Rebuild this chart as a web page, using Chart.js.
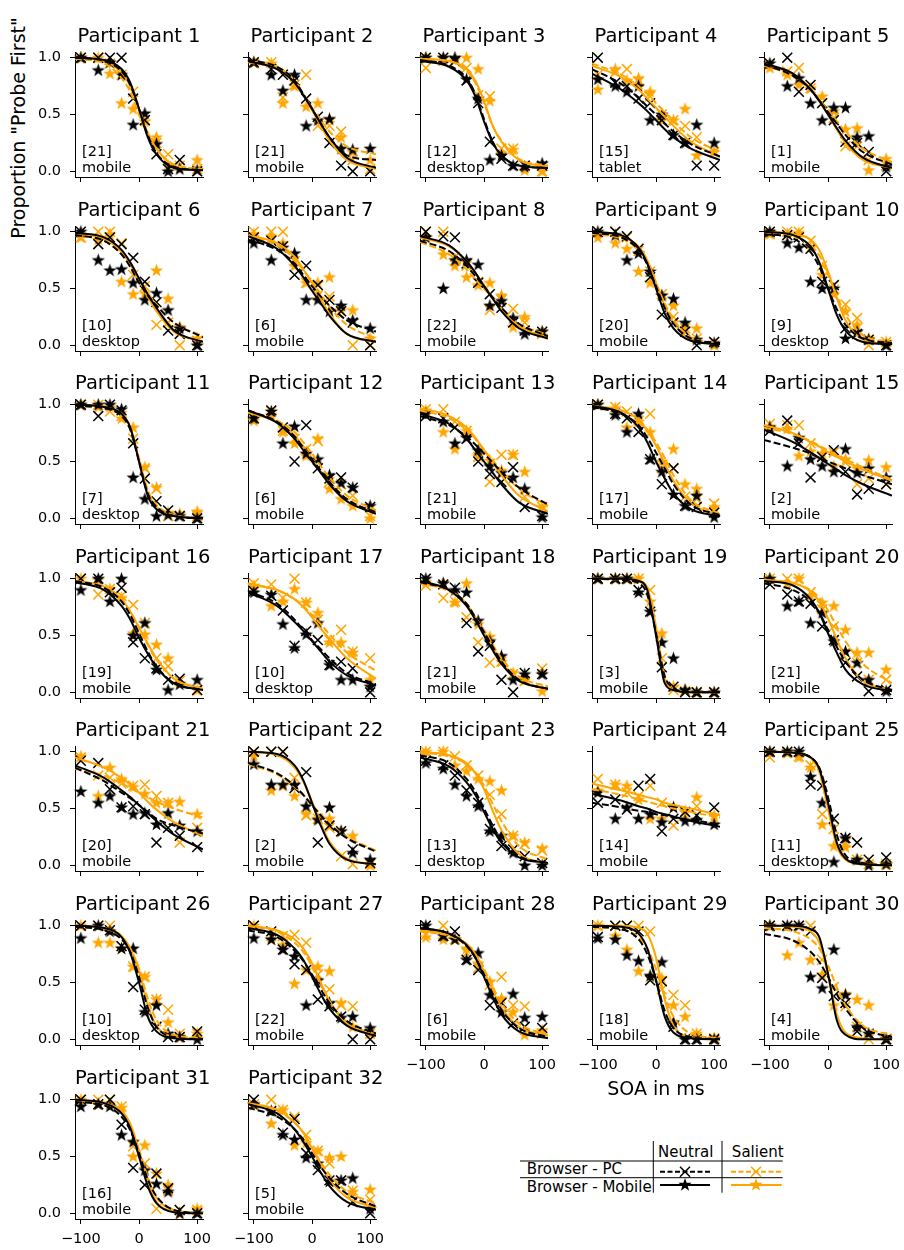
<!DOCTYPE html>
<html>
<head>
<meta charset="utf-8">
<script src="https://cdn.jsdelivr.net/npm/chart.js@4.4.0/dist/chart.umd.min.js"></script>
<style>
  html, body { margin: 0; padding: 0; background: #fff; }
  #fig { position: relative; width: 904px; height: 1250px; overflow: hidden;
         font-family: "DejaVu Sans", sans-serif; color: #000; }
  #fig canvas { position: absolute; }
  .ptitle { position: absolute; width: 128px; text-align: center; font-size: 19.5px;
            line-height: 24px; white-space: nowrap; }
  .pnote { position: absolute; font-size: 14.5px; line-height: 16px; white-space: nowrap; }
  .axlabel { position: absolute; font-size: 19px; line-height: 22px; white-space: nowrap; }
</style>
</head>
<body>
<div id="fig"></div>
<script>
// SOA values (ms) of the measured points, and x positions where fitted curves are read
const soa = [-100, -70, -50, -30, -10, 10, 30, 50, 70, 100];
const fitSoa = [-110, -60, -30, -15, 0, 15, 30, 60, 110];
const xTicks = [-100, 0, 100];
const yTicks = [0, 0.5, 1];

const trials = [21, 21, 12, 15, 1, 10, 6, 22, 20, 9, 7, 6, 21, 17, 2, 19,
                10, 21, 3, 21, 20, 2, 13, 14, 11, 10, 22, 6, 18, 4, 16, 5];
const devices = ['mobile', 'mobile', 'desktop', 'tablet', 'mobile', 'desktop', 'mobile', 'mobile',
                 'mobile', 'desktop', 'desktop', 'mobile', 'mobile', 'mobile', 'mobile', 'mobile',
                 'desktop', 'mobile', 'mobile', 'mobile', 'mobile', 'mobile', 'desktop', 'mobile',
                 'desktop', 'desktop', 'mobile', 'mobile', 'mobile', 'mobile', 'mobile', 'mobile'];

// proportion "probe first" per participant, one row per participant, one value per SOA
const neutralPC = [
  [1.0, 1.0, 1.0, 1.0, 0.64, 0.45, 0.15, 0.02, 0.1, 0.0],
  [0.96, 0.9, 0.85, 0.8, 0.64, 0.48, 0.25, 0.05, 0.0, 0.0],
  [1.0, 1.0, 0.97, 0.8, 0.6, 0.26, 0.11, 0.05, 0.05, 0.05],
  [1.0, 0.78, 0.75, 0.64, 0.6, 0.45, 0.32, 0.25, 0.05, 0.05],
  [0.95, 1.0, 0.7, 0.76, 0.6, 0.45, 0.26, 0.25, 0.17, 0.0],
  [1.0, 0.89, 0.95, 0.89, 0.77, 0.56, 0.38, 0.13, 0.1, 0.0],
  [0.95, 0.92, 0.87, 0.62, 0.7, 0.53, 0.4, 0.3, 0.2, 0.0],
  [1.0, 0.96, 0.95, 0.72, 0.55, 0.45, 0.33, 0.2, 0.13, 0.12],
  [1.0, 1.0, 0.96, 0.85, 0.6, 0.27, 0.2, 0.12, 0.0, 0.03],
  [1.0, 0.97, 0.95, 0.85, 0.56, 0.53, 0.15, 0.1, 0.05, 0.0],
  [1.0, 0.9, 1.0, 0.95, 0.66, 0.35, 0.15, 0.07, 0.02, 0.0],
  [0.88, 0.95, 0.8, 0.5, 0.82, 0.44, 0.35, 0.36, 0.27, 0.1],
  [0.9, 0.88, 0.8, 0.7, 0.5, 0.39, 0.32, 0.45, 0.1, 0.02],
  [1.0, 0.92, 0.88, 0.76, 0.52, 0.3, 0.44, 0.11, 0.1, 0.05],
  [0.77, 0.86, 0.66, 0.36, 0.54, 0.6, 0.41, 0.21, 0.26, 0.3],
  [1.0, 1.0, 0.88, 0.92, 0.44, 0.3, 0.21, 0.11, 0.12, 0.02],
  [0.89, 0.85, 0.72, 0.41, 0.54, 0.46, 0.24, 0.27, 0.21, 0.0],
  [1.0, 0.95, 0.92, 0.61, 0.36, 0.41, 0.11, 0.0, 0.17, 0.16],
  [1.0, 1.0, 1.0, 0.9, 0.71, 0.22, 0.05, 0.0, 0.0, 0.0],
  [0.95, 0.86, 0.8, 0.78, 0.58, 0.46, 0.26, 0.14, 0.01, 0.02],
  [0.92, 0.9, 0.67, 0.51, 0.52, 0.45, 0.2, 0.33, 0.26, 0.16],
  [1.0, 1.0, 1.0, 0.68, 0.82, 0.2, 0.35, 0.3, 0.14, 0.02],
  [0.92, 0.88, 0.79, 0.66, 0.55, 0.32, 0.17, 0.14, 0.08, 0.02],
  [0.55, 0.58, 0.49, 0.7, 0.76, 0.3, 0.41, 0.47, 0.44, 0.51],
  [1.0, 1.0, 1.0, 0.71, 0.7, 0.41, 0.24, 0.2, 0.05, 0.07],
  [1.0, 1.0, 0.96, 0.82, 0.46, 0.26, 0.11, 0.02, 0.02, 0.07],
  [1.0, 0.95, 0.79, 0.66, 0.61, 0.35, 0.29, 0.2, 0.0, 0.0],
  [1.0, 0.91, 0.95, 0.7, 0.61, 0.3, 0.32, 0.14, 0.11, 0.1],
  [0.9, 1.0, 1.0, 0.95, 0.52, 0.51, 0.11, 0.0, 0.0, 0.0],
  [1.0, 1.0, 1.0, 0.95, 0.54, 0.38, 0.32, 0.07, 0.05, 0.0],
  [1.0, 0.96, 1.0, 0.78, 0.4, 0.25, 0.35, 0.22, 0.03, 0.0],
  [1.0, 0.9, 0.71, 0.83, 0.53, 0.38, 0.29, 0.29, 0.1, 0.0]
];
const neutralMobile = [
  [1.0, 0.89, 0.96, 0.85, 0.41, 0.51, 0.24, 0.0, 0.02, 0.01],
  [0.96, 0.85, 0.71, 0.85, 0.4, 0.45, 0.46, 0.2, 0.19, 0.2],
  [1.0, 1.0, 1.0, 0.81, 0.64, 0.1, 0.14, 0.05, 0.04, 0.07],
  [0.81, 0.75, 0.7, 0.75, 0.45, 0.5, 0.32, 0.25, 0.41, 0.25],
  [0.95, 0.75, 0.82, 0.6, 0.45, 0.56, 0.56, 0.3, 0.31, 0.04],
  [1.0, 0.75, 0.66, 0.67, 0.55, 0.4, 0.46, 0.31, 0.15, 0.0],
  [0.9, 0.75, 0.86, 0.81, 0.4, 0.4, 0.3, 0.35, 0.22, 0.15],
  [0.95, 0.5, 0.75, 0.75, 0.71, 0.35, 0.39, 0.24, 0.1, 0.12],
  [1.0, 0.97, 0.75, 0.81, 0.65, 0.44, 0.41, 0.2, 0.05, 0.02],
  [1.0, 0.9, 0.86, 0.56, 0.5, 0.5, 0.06, 0.12, 0.05, 0.0],
  [1.0, 1.0, 1.0, 0.96, 0.36, 0.17, 0.02, 0.03, 0.02, 0.0],
  [0.88, 0.94, 0.66, 0.81, 0.57, 0.52, 0.38, 0.31, 0.27, 0.11],
  [0.92, 0.85, 0.66, 0.71, 0.6, 0.46, 0.4, 0.36, 0.26, 0.01],
  [1.0, 0.91, 0.76, 0.92, 0.52, 0.41, 0.21, 0.11, 0.2, 0.01],
  [0.8, 0.46, 0.71, 0.52, 0.46, 0.41, 0.61, 0.4, 0.44, 0.36],
  [0.9, 1.0, 0.8, 1.0, 0.5, 0.61, 0.2, 0.02, 0.07, 0.11],
  [0.88, 0.86, 0.6, 0.39, 0.51, 0.61, 0.24, 0.11, 0.11, 0.05],
  [1.0, 0.96, 0.9, 0.88, 0.63, 0.45, 0.32, 0.11, 0.16, 0.16],
  [1.0, 1.0, 1.0, 0.88, 0.71, 0.44, 0.3, 0.02, 0.0, 0.0],
  [1.0, 0.76, 0.8, 0.61, 0.7, 0.45, 0.36, 0.26, 0.11, 0.01],
  [0.65, 0.55, 0.61, 0.51, 0.45, 0.46, 0.36, 0.46, 0.35, 0.3],
  [0.89, 0.71, 0.71, 0.71, 0.52, 0.4, 0.51, 0.3, 0.11, 0.05],
  [0.9, 0.85, 0.71, 0.61, 0.52, 0.3, 0.26, 0.11, 0.0, 0.0],
  [0.64, 0.41, 0.51, 0.41, 0.45, 0.38, 0.51, 0.39, 0.4, 0.36],
  [1.0, 1.0, 1.0, 0.78, 0.55, 0.03, 0.24, 0.05, 0.0, 0.01],
  [0.89, 1.0, 0.95, 0.8, 0.8, 0.24, 0.3, 0.05, 0.02, 0.0],
  [0.89, 0.88, 0.79, 0.73, 0.3, 0.52, 0.32, 0.19, 0.2, 0.1],
  [1.0, 0.91, 0.88, 0.7, 0.76, 0.39, 0.24, 0.4, 0.19, 0.2],
  [0.89, 0.88, 0.74, 0.69, 0.56, 0.68, 0.15, 0.0, 0.0, 0.0],
  [1.0, 1.0, 1.0, 0.55, 0.45, 0.79, 0.39, 0.11, 0.05, 0.0],
  [0.94, 0.96, 0.94, 0.69, 0.63, 0.38, 0.26, 0.19, 0.0, 0.0],
  [0.96, 0.9, 0.69, 0.65, 0.49, 0.44, 0.28, 0.29, 0.31, 0.04]
];
const salientPC = [
  [1.0, 1.0, 0.95, 0.85, 0.7, 0.45, 0.25, 0.15, 0.05, 0.02],
  [0.95, 0.96, 0.65, 0.76, 0.85, 0.4, 0.4, 0.35, 0.1, 0.02],
  [0.91, 0.97, 0.97, 0.91, 0.67, 0.66, 0.2, 0.2, 0.05, 0.0],
  [0.85, 0.87, 0.9, 0.79, 0.66, 0.5, 0.45, 0.4, 0.3, 0.17],
  [0.94, 0.88, 0.91, 0.73, 0.6, 0.47, 0.22, 0.22, 0.1, 0.05],
  [0.95, 1.0, 1.0, 0.9, 0.62, 0.52, 0.18, 0.2, 0.0, 0.04],
  [1.0, 1.0, 1.0, 0.74, 0.55, 0.44, 0.43, 0.3, 0.0, 0.0],
  [1.0, 1.0, 0.78, 0.7, 0.56, 0.31, 0.4, 0.32, 0.2, 0.1],
  [1.0, 1.0, 0.95, 0.83, 0.65, 0.45, 0.25, 0.15, 0.06, 0.03],
  [0.98, 1.0, 1.0, 0.92, 0.7, 0.49, 0.36, 0.24, 0.0, 0.03],
  [1.0, 1.0, 0.94, 0.9, 0.7, 0.44, 0.26, 0.02, 0.02, 0.02],
  [0.88, 0.94, 0.77, 0.7, 0.61, 0.68, 0.32, 0.3, 0.2, 0.02],
  [0.96, 0.96, 0.85, 0.77, 0.54, 0.32, 0.56, 0.56, 0.19, 0.1],
  [1.0, 0.98, 0.94, 0.86, 0.92, 0.44, 0.44, 0.19, 0.17, 0.13],
  [0.83, 0.82, 0.82, 0.66, 0.55, 0.58, 0.49, 0.3, 0.35, 0.3],
  [1.0, 0.86, 0.91, 0.85, 0.77, 0.61, 0.3, 0.23, 0.1, 0.02],
  [0.96, 0.95, 0.83, 1.0, 0.79, 0.64, 0.46, 0.55, 0.36, 0.3],
  [0.94, 0.83, 0.8, 0.66, 0.44, 0.26, 0.27, 0.16, 0.1, 0.21],
  [1.0, 1.0, 1.0, 1.0, 0.9, 0.3, 0.02, 0.01, 0.0, 0.0],
  [1.0, 1.0, 1.0, 0.88, 0.73, 0.58, 0.35, 0.26, 0.11, 0.11],
  [0.95, 0.79, 0.77, 0.72, 0.7, 0.71, 0.61, 0.55, 0.2, 0.33],
  [1.0, 1.0, 1.0, 0.77, 0.44, 0.41, 0.33, 0.08, 0.01, 0.01],
  [1.0, 1.0, 0.96, 0.88, 0.79, 0.62, 0.45, 0.26, 0.19, 0.13],
  [0.76, 0.71, 0.64, 0.61, 0.7, 0.55, 0.35, 0.44, 0.52, 0.41],
  [0.95, 0.99, 0.96, 0.88, 0.45, 0.32, 0.2, 0.05, 0.01, 0.01],
  [1.0, 1.0, 1.0, 0.82, 0.64, 0.55, 0.35, 0.26, 0.05, 0.05],
  [1.0, 0.91, 0.91, 0.92, 0.85, 0.57, 0.44, 0.3, 0.29, 0.05],
  [0.92, 1.0, 0.88, 0.76, 0.63, 0.48, 0.55, 0.3, 0.29, 0.05],
  [1.0, 1.0, 1.0, 1.0, 0.95, 0.44, 0.39, 0.3, 0.05, 0.01],
  [1.0, 1.0, 1.0, 1.0, 0.7, 0.46, 0.29, 0.11, 0.0, 0.0],
  [1.0, 1.0, 1.0, 0.94, 0.59, 0.44, 0.04, 0.2, 0.03, 0.03],
  [0.96, 1.0, 0.91, 0.85, 0.69, 0.55, 0.44, 0.29, 0.2, 0.12]
];
const salientMobile = [
  [1.0, 1.0, 0.86, 0.6, 0.55, 0.44, 0.3, 0.05, 0.03, 0.1],
  [0.96, 0.95, 0.6, 0.75, 0.57, 0.6, 0.46, 0.3, 0.17, 0.1],
  [1.0, 1.0, 0.98, 1.0, 0.9, 0.62, 0.16, 0.19, 0.01, 0.0],
  [0.72, 0.9, 0.8, 0.82, 0.7, 0.45, 0.45, 0.55, 0.14, 0.17],
  [0.91, 0.85, 0.76, 0.73, 0.66, 0.53, 0.37, 0.38, 0.01, 0.11],
  [0.95, 0.93, 0.98, 0.56, 0.45, 0.46, 0.66, 0.41, 0.16, 0.06],
  [0.98, 0.96, 0.9, 0.7, 0.55, 0.55, 0.6, 0.31, 0.31, 0.06],
  [0.95, 0.8, 0.7, 0.6, 0.53, 0.55, 0.44, 0.16, 0.25, 0.12],
  [0.95, 0.9, 0.85, 0.65, 0.55, 0.44, 0.35, 0.15, 0.15, 0.0],
  [0.98, 0.98, 0.99, 0.86, 0.62, 0.45, 0.3, 0.18, 0.06, 0.03],
  [1.0, 0.98, 0.98, 0.88, 0.8, 0.45, 0.27, 0.05, 0.04, 0.06],
  [0.86, 0.91, 0.76, 0.66, 0.55, 0.7, 0.26, 0.17, 0.11, 0.0],
  [0.95, 0.76, 0.61, 0.77, 0.55, 0.51, 0.42, 0.56, 0.41, 0.1],
  [1.0, 0.97, 0.8, 0.85, 0.76, 0.5, 0.61, 0.3, 0.26, 0.1],
  [0.81, 0.79, 0.55, 0.59, 0.57, 0.46, 0.52, 0.44, 0.51, 0.45],
  [1.0, 0.99, 0.91, 0.83, 0.52, 0.51, 0.42, 0.3, 0.08, 0.02],
  [0.94, 0.76, 0.8, 0.91, 0.79, 0.7, 0.44, 0.44, 0.35, 0.11],
  [0.97, 0.96, 0.79, 0.96, 0.6, 0.49, 0.27, 0.17, 0.11, 0.01],
  [1.0, 1.0, 1.0, 1.0, 0.8, 0.52, 0.05, 0.02, 0.0, 0.0],
  [1.0, 0.96, 1.0, 0.85, 0.79, 0.76, 0.55, 0.35, 0.35, 0.2],
  [0.96, 0.61, 0.86, 0.76, 0.69, 0.63, 0.55, 0.55, 0.56, 0.45],
  [0.96, 0.66, 0.7, 0.61, 0.45, 0.41, 0.41, 0.3, 0.26, 0.0],
  [1.0, 1.0, 0.88, 0.83, 0.76, 0.74, 0.66, 0.26, 0.2, 0.15],
  [0.66, 0.71, 0.7, 0.58, 0.41, 0.41, 0.51, 0.48, 0.6, 0.44],
  [1.0, 0.99, 0.95, 0.86, 0.36, 0.17, 0.16, 0.05, 0.02, 0.01],
  [1.0, 0.85, 0.85, 0.8, 0.64, 0.55, 0.35, 0.15, 0.02, 0.05],
  [1.0, 0.88, 0.83, 0.49, 0.61, 0.64, 0.6, 0.32, 0.11, 0.05],
  [0.9, 0.88, 0.88, 0.8, 0.67, 0.51, 0.36, 0.24, 0.04, 0.08],
  [1.0, 0.91, 0.79, 0.6, 0.55, 0.54, 0.3, 0.2, 0.05, 0.01],
  [1.0, 0.74, 0.85, 0.7, 0.57, 0.3, 0.4, 0.35, 0.3, 0.01],
  [1.0, 0.96, 0.97, 0.93, 0.5, 0.6, 0.35, 0.25, 0.0, 0.04],
  [0.96, 0.79, 0.91, 0.6, 0.62, 0.55, 0.49, 0.5, 0.19, 0.21]
];

// fitted psychometric curves at fitSoa
const fitNeutralPC = [
  [1.0, 0.97, 0.88, 0.76, 0.55, 0.32, 0.16, 0.04, 0.01],
  [0.98, 0.92, 0.8, 0.68, 0.55, 0.42, 0.3, 0.14, 0.1],
  [0.98, 0.93, 0.82, 0.68, 0.46, 0.26, 0.14, 0.05, 0.03],
  [0.9, 0.77, 0.65, 0.57, 0.5, 0.42, 0.35, 0.24, 0.13],
  [0.94, 0.84, 0.72, 0.62, 0.52, 0.42, 0.32, 0.17, 0.06],
  [0.97, 0.92, 0.8, 0.69, 0.55, 0.44, 0.35, 0.2, 0.07],
  [0.93, 0.84, 0.72, 0.62, 0.52, 0.43, 0.35, 0.22, 0.12],
  [0.92, 0.83, 0.7, 0.61, 0.52, 0.42, 0.33, 0.19, 0.08],
  [0.99, 0.95, 0.84, 0.71, 0.52, 0.33, 0.19, 0.06, 0.02],
  [0.98, 0.94, 0.82, 0.69, 0.5, 0.32, 0.18, 0.06, 0.02],
  [0.99, 0.97, 0.9, 0.78, 0.5, 0.22, 0.1, 0.02, 0.0],
  [0.95, 0.85, 0.72, 0.62, 0.52, 0.42, 0.32, 0.17, 0.05],
  [0.9, 0.82, 0.72, 0.65, 0.57, 0.49, 0.41, 0.27, 0.12],
  [0.98, 0.92, 0.82, 0.71, 0.58, 0.44, 0.3, 0.12, 0.03],
  [0.69, 0.62, 0.57, 0.53, 0.5, 0.47, 0.44, 0.38, 0.3],
  [0.98, 0.92, 0.8, 0.68, 0.52, 0.36, 0.23, 0.08, 0.02],
  [0.89, 0.78, 0.64, 0.55, 0.46, 0.38, 0.3, 0.17, 0.07],
  [0.97, 0.9, 0.78, 0.66, 0.53, 0.4, 0.27, 0.11, 0.03],
  [1.0, 0.99, 0.96, 0.86, 0.52, 0.14, 0.04, 0.0, 0.0],
  [0.96, 0.9, 0.8, 0.7, 0.55, 0.4, 0.27, 0.11, 0.02],
  [0.86, 0.74, 0.64, 0.59, 0.53, 0.47, 0.41, 0.35, 0.28],
  [0.9, 0.81, 0.7, 0.62, 0.53, 0.44, 0.36, 0.24, 0.12],
  [0.97, 0.9, 0.76, 0.65, 0.5, 0.35, 0.22, 0.08, 0.02],
  [0.55, 0.51, 0.48, 0.47, 0.45, 0.44, 0.42, 0.4, 0.36],
  [1.0, 0.99, 0.95, 0.86, 0.6, 0.27, 0.09, 0.02, 0.0],
  [0.99, 0.96, 0.88, 0.77, 0.55, 0.28, 0.11, 0.02, 0.0],
  [0.96, 0.9, 0.78, 0.69, 0.57, 0.44, 0.32, 0.16, 0.05],
  [0.98, 0.93, 0.82, 0.72, 0.57, 0.4, 0.26, 0.1, 0.02],
  [0.99, 0.97, 0.88, 0.75, 0.52, 0.25, 0.1, 0.02, 0.0],
  [0.93, 0.87, 0.77, 0.68, 0.55, 0.4, 0.27, 0.1, 0.02],
  [0.98, 0.95, 0.85, 0.73, 0.53, 0.3, 0.15, 0.03, 0.0],
  [0.93, 0.85, 0.74, 0.65, 0.53, 0.41, 0.31, 0.17, 0.06]
];
const fitNeutralMobile = [
  [1.0, 0.98, 0.9, 0.78, 0.55, 0.3, 0.15, 0.03, 0.01],
  [0.97, 0.9, 0.78, 0.67, 0.55, 0.42, 0.3, 0.12, 0.03],
  [0.97, 0.92, 0.8, 0.66, 0.44, 0.25, 0.14, 0.05, 0.03],
  [0.86, 0.72, 0.6, 0.53, 0.45, 0.37, 0.3, 0.2, 0.1],
  [0.95, 0.86, 0.72, 0.62, 0.5, 0.38, 0.27, 0.12, 0.03],
  [0.99, 0.95, 0.84, 0.73, 0.59, 0.45, 0.33, 0.13, 0.03],
  [0.96, 0.85, 0.7, 0.6, 0.48, 0.37, 0.26, 0.1, 0.03],
  [0.96, 0.88, 0.74, 0.64, 0.52, 0.41, 0.3, 0.15, 0.06],
  [1.0, 0.97, 0.86, 0.72, 0.5, 0.28, 0.15, 0.04, 0.01],
  [1.0, 0.97, 0.87, 0.73, 0.5, 0.27, 0.13, 0.03, 0.01],
  [1.0, 0.98, 0.92, 0.8, 0.5, 0.2, 0.08, 0.02, 0.0],
  [0.95, 0.84, 0.7, 0.6, 0.5, 0.4, 0.3, 0.15, 0.04],
  [0.92, 0.83, 0.7, 0.6, 0.5, 0.4, 0.3, 0.14, 0.04],
  [0.99, 0.93, 0.8, 0.67, 0.5, 0.35, 0.22, 0.08, 0.02],
  [0.78, 0.67, 0.58, 0.53, 0.48, 0.43, 0.38, 0.3, 0.2],
  [0.97, 0.9, 0.76, 0.64, 0.48, 0.34, 0.22, 0.08, 0.02],
  [0.88, 0.76, 0.62, 0.54, 0.45, 0.36, 0.27, 0.15, 0.06],
  [0.98, 0.9, 0.76, 0.64, 0.5, 0.37, 0.25, 0.1, 0.03],
  [1.0, 1.0, 0.98, 0.9, 0.5, 0.08, 0.02, 0.0, 0.0],
  [0.98, 0.94, 0.82, 0.7, 0.52, 0.35, 0.2, 0.07, 0.01],
  [0.88, 0.77, 0.66, 0.6, 0.53, 0.46, 0.39, 0.27, 0.14],
  [1.0, 0.98, 0.88, 0.75, 0.55, 0.35, 0.19, 0.05, 0.01],
  [0.95, 0.87, 0.73, 0.62, 0.47, 0.32, 0.2, 0.07, 0.02],
  [0.63, 0.57, 0.52, 0.5, 0.47, 0.45, 0.43, 0.39, 0.34],
  [1.0, 0.99, 0.95, 0.85, 0.55, 0.2, 0.06, 0.01, 0.0],
  [1.0, 0.98, 0.9, 0.76, 0.5, 0.2, 0.07, 0.01, 0.0],
  [0.98, 0.92, 0.8, 0.7, 0.55, 0.4, 0.27, 0.12, 0.03],
  [0.98, 0.93, 0.83, 0.72, 0.55, 0.37, 0.22, 0.07, 0.01],
  [1.0, 0.99, 0.93, 0.8, 0.52, 0.2, 0.06, 0.01, 0.0],
  [1.0, 1.0, 0.97, 0.9, 0.58, 0.17, 0.04, 0.0, 0.0],
  [1.0, 0.97, 0.88, 0.75, 0.5, 0.24, 0.09, 0.01, 0.0],
  [0.96, 0.88, 0.74, 0.63, 0.5, 0.36, 0.24, 0.1, 0.03]
];
const fitSalientPC = [
  [0.99, 0.95, 0.82, 0.7, 0.5, 0.33, 0.2, 0.06, 0.02],
  [0.96, 0.9, 0.78, 0.68, 0.56, 0.45, 0.35, 0.22, 0.15],
  [0.99, 0.97, 0.88, 0.78, 0.6, 0.4, 0.27, 0.11, 0.05],
  [0.95, 0.85, 0.75, 0.68, 0.6, 0.52, 0.44, 0.3, 0.17],
  [0.93, 0.84, 0.72, 0.63, 0.54, 0.44, 0.35, 0.2, 0.08],
  [0.97, 0.92, 0.8, 0.7, 0.57, 0.46, 0.36, 0.2, 0.08],
  [0.96, 0.88, 0.76, 0.66, 0.56, 0.45, 0.34, 0.18, 0.06],
  [0.91, 0.8, 0.67, 0.58, 0.5, 0.41, 0.32, 0.19, 0.09],
  [0.98, 0.94, 0.84, 0.73, 0.55, 0.37, 0.23, 0.07, 0.02],
  [0.99, 0.96, 0.88, 0.79, 0.62, 0.44, 0.27, 0.09, 0.03],
  [0.99, 0.97, 0.9, 0.79, 0.53, 0.25, 0.12, 0.03, 0.0],
  [0.94, 0.86, 0.76, 0.67, 0.57, 0.46, 0.36, 0.2, 0.07],
  [0.95, 0.88, 0.78, 0.7, 0.6, 0.51, 0.42, 0.26, 0.11],
  [0.99, 0.95, 0.87, 0.78, 0.67, 0.53, 0.38, 0.16, 0.04],
  [0.8, 0.74, 0.68, 0.64, 0.6, 0.56, 0.52, 0.45, 0.34],
  [0.98, 0.93, 0.82, 0.71, 0.57, 0.42, 0.29, 0.12, 0.03],
  [0.95, 0.9, 0.82, 0.76, 0.68, 0.6, 0.51, 0.35, 0.19],
  [0.96, 0.89, 0.77, 0.66, 0.55, 0.42, 0.3, 0.14, 0.05],
  [1.0, 0.99, 0.97, 0.88, 0.55, 0.15, 0.03, 0.0, 0.0],
  [0.99, 0.96, 0.9, 0.83, 0.72, 0.58, 0.45, 0.25, 0.08],
  [0.85, 0.79, 0.72, 0.68, 0.64, 0.6, 0.56, 0.5, 0.42],
  [0.89, 0.8, 0.69, 0.62, 0.53, 0.45, 0.37, 0.25, 0.13],
  [0.99, 0.96, 0.89, 0.82, 0.7, 0.54, 0.39, 0.17, 0.05],
  [0.67, 0.62, 0.58, 0.56, 0.54, 0.52, 0.5, 0.47, 0.42],
  [1.0, 0.99, 0.94, 0.82, 0.5, 0.2, 0.07, 0.02, 0.0],
  [0.99, 0.97, 0.9, 0.8, 0.62, 0.36, 0.17, 0.04, 0.01],
  [0.99, 0.95, 0.85, 0.77, 0.64, 0.48, 0.33, 0.15, 0.04],
  [0.95, 0.91, 0.83, 0.75, 0.62, 0.46, 0.32, 0.14, 0.04],
  [0.99, 0.97, 0.9, 0.8, 0.62, 0.38, 0.2, 0.05, 0.01],
  [0.98, 0.95, 0.88, 0.8, 0.65, 0.46, 0.3, 0.12, 0.04],
  [0.99, 0.96, 0.89, 0.78, 0.56, 0.32, 0.14, 0.03, 0.0],
  [0.96, 0.9, 0.8, 0.71, 0.58, 0.45, 0.34, 0.19, 0.09]
];
const fitSalientMobile = [
  [1.0, 0.97, 0.87, 0.75, 0.55, 0.34, 0.2, 0.05, 0.01],
  [0.97, 0.92, 0.8, 0.68, 0.54, 0.4, 0.27, 0.1, 0.02],
  [0.99, 0.97, 0.9, 0.8, 0.62, 0.4, 0.26, 0.1, 0.04],
  [0.93, 0.83, 0.72, 0.64, 0.56, 0.48, 0.4, 0.26, 0.13],
  [0.95, 0.85, 0.73, 0.62, 0.5, 0.37, 0.25, 0.1, 0.03],
  [0.98, 0.94, 0.82, 0.71, 0.57, 0.43, 0.3, 0.12, 0.03],
  [0.97, 0.9, 0.78, 0.67, 0.55, 0.41, 0.28, 0.1, 0.03],
  [0.95, 0.87, 0.74, 0.64, 0.53, 0.42, 0.32, 0.17, 0.07],
  [0.99, 0.96, 0.87, 0.75, 0.55, 0.35, 0.2, 0.05, 0.01],
  [1.0, 0.98, 0.93, 0.84, 0.65, 0.42, 0.22, 0.05, 0.01],
  [1.0, 0.98, 0.92, 0.8, 0.52, 0.23, 0.1, 0.02, 0.0],
  [0.93, 0.85, 0.73, 0.63, 0.52, 0.41, 0.3, 0.15, 0.05],
  [0.97, 0.9, 0.8, 0.71, 0.6, 0.49, 0.38, 0.2, 0.06],
  [0.99, 0.95, 0.87, 0.77, 0.64, 0.48, 0.33, 0.13, 0.03],
  [0.82, 0.75, 0.67, 0.63, 0.58, 0.54, 0.5, 0.43, 0.33],
  [0.98, 0.93, 0.82, 0.71, 0.57, 0.43, 0.3, 0.12, 0.03],
  [0.96, 0.9, 0.82, 0.75, 0.66, 0.56, 0.47, 0.3, 0.12],
  [0.97, 0.9, 0.78, 0.66, 0.53, 0.4, 0.27, 0.11, 0.03],
  [1.0, 1.0, 0.98, 0.92, 0.58, 0.12, 0.02, 0.0, 0.0],
  [0.99, 0.96, 0.89, 0.8, 0.65, 0.47, 0.3, 0.1, 0.02],
  [0.95, 0.86, 0.77, 0.71, 0.64, 0.56, 0.49, 0.38, 0.26],
  [1.0, 0.97, 0.86, 0.74, 0.56, 0.37, 0.21, 0.06, 0.01],
  [1.0, 0.97, 0.9, 0.81, 0.67, 0.48, 0.31, 0.1, 0.02],
  [0.72, 0.66, 0.62, 0.6, 0.58, 0.55, 0.53, 0.5, 0.44],
  [1.0, 0.99, 0.95, 0.83, 0.5, 0.17, 0.05, 0.01, 0.0],
  [1.0, 0.98, 0.91, 0.8, 0.6, 0.3, 0.12, 0.02, 0.0],
  [1.0, 0.96, 0.88, 0.8, 0.67, 0.5, 0.34, 0.14, 0.03],
  [0.96, 0.92, 0.84, 0.75, 0.6, 0.43, 0.28, 0.11, 0.03],
  [1.0, 1.0, 0.98, 0.93, 0.72, 0.35, 0.12, 0.02, 0.0],
  [1.0, 0.99, 0.95, 0.85, 0.57, 0.22, 0.06, 0.01, 0.0],
  [0.99, 0.97, 0.9, 0.79, 0.55, 0.28, 0.1, 0.02, 0.0],
  [0.97, 0.91, 0.8, 0.71, 0.57, 0.43, 0.3, 0.14, 0.05]
];

// layout
const BLACK = '#000000';
const ORANGE = '#ffa500';
const FONT = 'DejaVu Sans';
const colLeft = [75, 248, 420, 592, 764];
const rowTop = [52, 226, 399, 573, 746, 920, 1094];
const plotW = 128, plotH = 125;
const padL = 45, padR = 24, padT = 24, padB = 30;
const bottomPanels = [27, 28, 29, 30, 31];

Chart.defaults.font.family = FONT;

const fig = document.getElementById('fig');

function makeStar(color) {
    const c = document.createElement('canvas');
    c.width = 15; c.height = 15;
    const g = c.getContext('2d');
    g.fillStyle = color;
    g.beginPath();
    for (let k = 0; k < 10; k++) {
        const r = k % 2 === 0 ? 7 : 2.75;
        const a = -Math.PI / 2 + k * Math.PI / 5;
        const px = 7.5 + r * Math.cos(a), py = 7.8 + r * Math.sin(a);
        if (k === 0) g.moveTo(px, py); else g.lineTo(px, py);
    }
    g.closePath();
    g.fill();
    return c;
}
const blackStar = makeStar(BLACK);
const orangeStar = makeStar(ORANGE);

const fitLine = (data, color, dash) => ({
    data, showLine: true, borderColor: color, borderWidth: 2, borderDash: dash,
    pointRadius: 0, cubicInterpolationMode: 'monotone', fill: false
});
const crosses = (data, color) => ({
    data, showLine: false, pointStyle: 'crossRot', pointRadius: 7,
    borderColor: color, backgroundColor: color, borderWidth: 1.5, clip: false
});
const stars = (data, img) => ({
    data, showLine: false, pointStyle: img, pointRadius: 7, clip: false
});

function fmtX(v) { return v < 0 ? '\u2212' + Math.abs(v) : String(v); }

function addDiv(cls, text, style) {
    const d = document.createElement('div');
    d.className = cls;
    d.innerHTML = text;
    Object.assign(d.style, style);
    fig.appendChild(d);
    return d;
}

function drawPanel(i) {
    const c = i % 5, r = Math.floor(i / 5);
    const left = colLeft[c], top = rowTop[r];
    const showY = c === 0;
    const showX = bottomPanels.includes(i);

    const canvas = document.createElement('canvas');
    canvas.width = padL + plotW + padR;
    canvas.height = padT + plotH + padB;
    canvas.style.left = (left - padL) + 'px';
    canvas.style.top = (top - padT) + 'px';
    fig.appendChild(canvas);

    const pts = arr => soa.map((x, k) => ({ x, y: arr[i][k] }));
    const fit = arr => fitSoa.map((x, k) => ({ x, y: arr[i][k] }));

    const axisGrid = { drawOnChartArea: false, drawTicks: true, tickLength: 5, color: BLACK, lineWidth: 1 };
    const axisBorder = { display: true, color: BLACK, width: 1 };

    new Chart(canvas, {
        type: 'scatter',
        data: {
            datasets: [
                fitLine(fit(fitNeutralMobile), BLACK, []),
                fitLine(fit(fitNeutralPC), BLACK, [7, 3]),
                fitLine(fit(fitSalientMobile), ORANGE, []),
                fitLine(fit(fitSalientPC), ORANGE, [7, 3]),
                crosses(pts(neutralPC), BLACK),
                stars(pts(neutralMobile), blackStar),
                crosses(pts(salientPC), ORANGE),
                stars(pts(salientMobile), orangeStar)
            ]
        },
        options: {
            responsive: false,
            animation: false,
            devicePixelRatio: 1,
            events: [],
            layout: { padding: { left: 0, right: padR, top: padT, bottom: 0 } },
            plugins: { legend: { display: false }, tooltip: { enabled: false } },
            scales: {
                x: {
                    type: 'linear', min: -110, max: 110,
                    afterBuildTicks: s => { s.ticks = xTicks.map(v => ({ value: v })); },
                    afterFit: s => { s.height = padB; },
                    ticks: {
                        display: showX, callback: v => fmtX(v), color: BLACK,
                        font: { family: FONT, size: 14.5 }, padding: 7,
                        maxRotation: 0, autoSkip: false
                    },
                    grid: axisGrid,
                    border: axisBorder
                },
                y: {
                    type: 'linear', min: -0.05, max: 1.05,
                    afterBuildTicks: s => { s.ticks = yTicks.map(v => ({ value: v })); },
                    afterFit: s => { s.width = padL; },
                    ticks: {
                        display: showY, callback: v => v.toFixed(1), color: BLACK,
                        font: { family: FONT, size: 14.5 }, padding: 9
                    },
                    grid: axisGrid,
                    border: axisBorder
                }
            }
        }
    });

    addDiv('ptitle', 'Participant ' + (i + 1), { left: left + 'px', top: (top - 28) + 'px' });
    addDiv('pnote', '[' + trials[i] + ']<br>' + devices[i], { left: (left + 7) + 'px', top: (top + 91) + 'px' });
}

for (let i = 0; i < trials.length; i++) drawPanel(i);

// axis labels
addDiv('axlabel', 'SOA in ms', { left: (colLeft[3] + plotW / 2) + 'px', top: '1077px', transform: 'translateX(-50%)' });
addDiv('axlabel', 'Proportion "Probe First"', {
    left: '18px', top: '128px', transform: 'translate(-50%, -50%) rotate(-90deg)'
});

// legend table
function starPoints(cx, cy, ro, ri) {
    const p = [];
    for (let k = 0; k < 10; k++) {
        const r = k % 2 === 0 ? ro : ri;
        const a = -Math.PI / 2 + k * Math.PI / 5;
        p.push((cx + r * Math.cos(a)).toFixed(2) + ',' + (cy + r * Math.sin(a)).toFixed(2));
    }
    return p.join(' ');
}
function crossPath(cx, cy, h) {
    return `M${cx - h},${cy - h}L${cx + h},${cy + h}M${cx + h},${cy - h}L${cx - h},${cy + h}`;
}
const legendSvg = `
<svg width="290" height="70" style="position:absolute;left:510px;top:1130px" font-family="${FONT}" font-size="15">
  <line x1="143.3" y1="11" x2="143.3" y2="62.7" stroke="#000" stroke-width="1"/>
  <line x1="212" y1="11" x2="212" y2="62.7" stroke="#000" stroke-width="1"/>
  <line x1="10" y1="31" x2="272.7" y2="31" stroke="#000" stroke-width="1"/>
  <line x1="10" y1="47.7" x2="272.7" y2="47.7" stroke="#000" stroke-width="1"/>
  <text x="175.8" y="26.7" text-anchor="middle">Neutral</text>
  <text x="247.7" y="26.7" text-anchor="middle">Salient</text>
  <text x="16.7" y="44.3">Browser - PC</text>
  <text x="16.7" y="61.7">Browser - Mobile</text>
  <line x1="150" y1="41.7" x2="200" y2="41.7" stroke="${BLACK}" stroke-width="2" stroke-dasharray="5,2.5"/>
  <path d="${crossPath(175, 41.7, 5)}" stroke="${BLACK}" stroke-width="1.5" fill="none"/>
  <line x1="221" y1="41.7" x2="271.7" y2="41.7" stroke="${ORANGE}" stroke-width="2" stroke-dasharray="5,2.5"/>
  <path d="${crossPath(246, 41.7, 5)}" stroke="${ORANGE}" stroke-width="1.5" fill="none"/>
  <line x1="150" y1="55" x2="200" y2="55" stroke="${BLACK}" stroke-width="2"/>
  <polygon points="${starPoints(175, 55, 7, 2.75)}" fill="${BLACK}"/>
  <line x1="221" y1="55" x2="271.7" y2="55" stroke="${ORANGE}" stroke-width="2"/>
  <polygon points="${starPoints(246, 55, 7, 2.75)}" fill="${ORANGE}"/>
</svg>`;
fig.insertAdjacentHTML('beforeend', legendSvg);
</script>
</body>
</html>
